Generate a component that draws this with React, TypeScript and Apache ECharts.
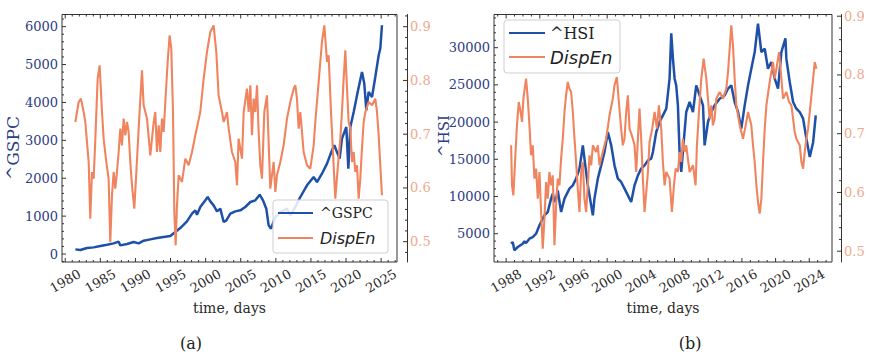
import React, { useEffect, useRef } from "react";
import * as echarts from "echarts";

// ---------- data ----------
// (a) ^GSPC
const gspcYears = [1981.44, 1982.15, 1983.1, 1984.05, 1985.0, 1985.95, 1986.9, 1987.61, 1987.85, 1988.8, 1989.75, 1990.46, 1991.17, 1992.12, 1993.07, 1994.02, 1994.97, 1995.68, 1996.39, 1997.34, 1998.06, 1998.53, 1998.77, 1999.24, 1999.96, 2000.29, 2000.67, 2001.14, 2001.62, 2002.09, 2002.57, 2002.95, 2003.52, 2004.23, 2004.94, 2005.65, 2006.37, 2007.08, 2007.7, 2008.17, 2008.64, 2008.98, 2009.31, 2009.93, 2010.64, 2011.59, 2012.06, 2012.78, 2013.49, 2014.44, 2015.39, 2015.86, 2016.57, 2017.29, 2018.0, 2018.33, 2018.71, 2019.09, 2019.42, 2020.04, 2020.33, 2020.61, 2021.09, 2021.66, 2022.27, 2022.6, 2022.89, 2023.22, 2023.7, 2024.17, 2024.65, 2024.88, 2025.12];
const gspcValues = [123, 106, 158, 176, 211, 246, 282, 326, 229, 264, 317, 282, 352, 387, 422, 449, 475, 581, 686, 862, 1065, 1153, 1038, 1241, 1417, 1505, 1390, 1285, 1126, 1197, 845, 889, 1065, 1126, 1153, 1241, 1373, 1417, 1566, 1417, 1197, 757, 669, 977, 1109, 1197, 1021, 1241, 1505, 1813, 2033, 1900, 2120, 2385, 2737, 2869, 2693, 2517, 3045, 3353, 2253, 3353, 3749, 4277, 4805, 4497, 3793, 4277, 4145, 4673, 5245, 5421, 6037];

// (a) DispEn
const dispAYears = [1981.44, 1981.91, 1982.24, 1982.62, 1982.86, 1983.34, 1983.57, 1983.81, 1984.05, 1984.29, 1984.62, 1984.9, 1985.24, 1985.47, 1985.85, 1986.18, 1986.42, 1986.66, 1986.9, 1987.13, 1987.37, 1987.61, 1987.85, 1988.08, 1988.32, 1988.56, 1988.8, 1989.03, 1989.27, 1989.51, 1989.84, 1990.13, 1990.46, 1990.93, 1991.17, 1991.65, 1992.12, 1992.6, 1992.83, 1993.07, 1993.31, 1993.54, 1993.78, 1994.02, 1994.26, 1994.59, 1994.87, 1995.11, 1995.35, 1995.54, 1995.73, 1995.92, 1996.16, 1996.63, 1997.11, 1997.58, 1998.06, 1998.53, 1999.24, 1999.72, 2000.19, 2000.67, 2001.14, 2001.52, 2001.85, 2002.33, 2002.57, 2003.04, 2003.28, 2003.75, 2004.23, 2004.47, 2004.7, 2005.18, 2005.42, 2005.89, 2006.13, 2006.37, 2006.6, 2006.84, 2007.08, 2007.32, 2007.55, 2007.79, 2008.03, 2008.36, 2008.74, 2009.21, 2009.69, 2009.93, 2010.16, 2010.64, 2011.11, 2011.59, 2012.06, 2012.54, 2012.78, 2013.01, 2013.25, 2013.49, 2013.96, 2014.44, 2014.91, 2015.39, 2015.62, 2016.1, 2016.57, 2016.91, 2017.29, 2017.52, 2017.86, 2018.14, 2018.47, 2018.81, 2019.19, 2019.42, 2019.66, 2019.9, 2020.14, 2020.37, 2020.61, 2020.85, 2021.09, 2021.32, 2021.56, 2021.8, 2022.03, 2022.27, 2022.51, 2022.75, 2023.22, 2023.7, 2024.17, 2024.41, 2024.65, 2024.88, 2025.12];
const dispAValues = [0.7227, 0.7599, 0.7661, 0.7413, 0.7227, 0.6483, 0.5429, 0.6297, 0.6173, 0.6917, 0.8033, 0.8281, 0.7413, 0.6917, 0.6483, 0.6173, 0.4994, 0.5863, 0.6297, 0.5987, 0.6297, 0.6669, 0.7103, 0.6793, 0.7289, 0.6979, 0.7227, 0.7041, 0.6483, 0.6049, 0.5615, 0.6297, 0.7103, 0.8188, 0.7537, 0.7289, 0.6607, 0.7227, 0.7413, 0.6669, 0.7165, 0.6669, 0.7289, 0.7041, 0.7599, 0.8343, 0.8839, 0.8591, 0.7413, 0.5553, 0.4932, 0.5677, 0.6235, 0.6111, 0.6545, 0.6421, 0.6669, 0.6979, 0.7413, 0.8033, 0.8529, 0.8901, 0.9025, 0.8529, 0.7723, 0.7413, 0.7227, 0.7413, 0.7103, 0.6669, 0.6483, 0.6049, 0.6917, 0.6545, 0.7413, 0.7847, 0.7413, 0.7909, 0.6979, 0.7661, 0.7413, 0.7909, 0.7041, 0.6421, 0.6173, 0.7413, 0.7723, 0.5987, 0.6483, 0.5925, 0.6235, 0.6483, 0.6793, 0.7289, 0.7599, 0.7847, 0.7909, 0.7661, 0.7103, 0.7413, 0.6669, 0.6421, 0.6359, 0.6793, 0.7227, 0.7971, 0.8715, 0.9025, 0.8343, 0.8467, 0.7413, 0.6669, 0.5801, 0.6359, 0.6917, 0.7413, 0.8033, 0.856, 0.7847, 0.7227, 0.7103, 0.6483, 0.6669, 0.6297, 0.6421, 0.5801, 0.6173, 0.6731, 0.7227, 0.7413, 0.7599, 0.7537, 0.7661, 0.7413, 0.6979, 0.6421, 0.5863];

// (b) ^HSI
const hsiYears = [1988.59, 1988.78, 1988.98, 1989.38, 1989.97, 1990.17, 1990.37, 1990.77, 1991.16, 1991.56, 1991.96, 1992.15, 1992.55, 1992.94, 1993.14, 1993.34, 1993.54, 1993.74, 1993.94, 1994.13, 1994.53, 1994.93, 1995.52, 1995.92, 1996.31, 1996.71, 1997.11, 1997.3, 1997.7, 1998.1, 1998.3, 1998.49, 1998.89, 1999.29, 1999.68, 2000.08, 2000.48, 2000.87, 2001.27, 2001.66, 2002.06, 2002.46, 2002.85, 2003.25, 2003.65, 2004.04, 2004.44, 2004.84, 2005.23, 2005.43, 2005.83, 2006.22, 2006.62, 2007.02, 2007.41, 2007.61, 2007.81, 2008.01, 2008.2, 2008.4, 2008.6, 2008.8, 2008.99, 2009.39, 2009.79, 2010.19, 2010.58, 2010.98, 2011.38, 2011.57, 2011.97, 2012.37, 2012.76, 2013.36, 2013.95, 2014.35, 2014.74, 2015.14, 2015.54, 2015.93, 2016.33, 2016.73, 2017.12, 2017.52, 2017.91, 2018.31, 2018.71, 2019.1, 2019.5, 2019.9, 2020.29, 2020.69, 2021.17, 2021.28, 2021.68, 2022.08, 2022.47, 2022.87, 2023.27, 2023.66, 2024.06, 2024.46, 2024.77];
const hsiValues = [3660, 3881, 2767, 3212, 3660, 3970, 3747, 4328, 4552, 5004, 6125, 6572, 7468, 7916, 8812, 9708, 10380, 9260, 9708, 10800, 7916, 9708, 11053, 11501, 12397, 13741, 16877, 15085, 11501, 8812, 7468, 9708, 12397, 14189, 15980, 18669, 16877, 14189, 12397, 11949, 11053, 10156, 9260, 11501, 12845, 13741, 14189, 14861, 15085, 15980, 18669, 20010, 20906, 21802, 25834, 31929, 28523, 25834, 24938, 22250, 15980, 13293, 15980, 21354, 22698, 21354, 24938, 23594, 22250, 16877, 20010, 21354, 22250, 23146, 23594, 24490, 24938, 22698, 21354, 19114, 22250, 24938, 27179, 29419, 33228, 29419, 29867, 27179, 28075, 25834, 24490, 29419, 31249, 28523, 25386, 22698, 21802, 21354, 20458, 17773, 15300, 17300, 20906];

// (b) DispEn
const dispBYears = [1988.59, 1988.7, 1988.86, 1989.1, 1989.26, 1989.5, 1989.66, 1989.89, 1990.05, 1990.21, 1990.37, 1990.57, 1990.77, 1990.96, 1991.16, 1991.36, 1991.56, 1991.76, 1991.96, 1992.15, 1992.35, 1992.55, 1992.75, 1992.94, 1993.14, 1993.34, 1993.54, 1993.74, 1993.94, 1994.13, 1994.33, 1994.53, 1994.73, 1994.93, 1995.12, 1995.32, 1995.52, 1995.72, 1995.92, 1996.12, 1996.31, 1996.51, 1996.71, 1996.91, 1997.11, 1997.3, 1997.5, 1997.7, 1997.9, 1998.1, 1998.3, 1998.69, 1998.89, 1999.09, 1999.48, 1999.88, 2000.28, 2000.67, 2000.87, 2001.15, 2001.39, 2001.66, 2001.86, 2002.06, 2002.26, 2002.46, 2002.66, 2003.05, 2003.25, 2003.45, 2003.65, 2003.84, 2004.04, 2004.24, 2004.44, 2004.64, 2004.84, 2005.03, 2005.35, 2005.63, 2005.91, 2006.14, 2006.42, 2006.62, 2006.82, 2007.02, 2007.41, 2007.69, 2007.93, 2008.13, 2008.4, 2008.6, 2008.8, 2008.99, 2009.19, 2009.39, 2009.79, 2010.19, 2010.5, 2010.66, 2010.9, 2011.18, 2011.46, 2011.77, 2011.97, 2012.17, 2012.37, 2012.56, 2012.76, 2012.96, 2013.36, 2013.75, 2014.15, 2014.35, 2014.55, 2014.74, 2014.94, 2015.14, 2015.34, 2015.74, 2016.13, 2016.45, 2016.73, 2017.12, 2017.32, 2017.52, 2017.72, 2017.91, 2018.11, 2018.31, 2018.51, 2018.71, 2018.91, 2019.3, 2019.7, 2019.9, 2020.1, 2020.41, 2020.69, 2020.89, 2021.28, 2021.6, 2021.88, 2022.08, 2022.27, 2022.47, 2022.87, 2023.07, 2023.27, 2023.46, 2023.66, 2023.86, 2024.06, 2024.26, 2024.46, 2024.65, 2024.85];
const dispBValues = [0.6802, 0.6121, 0.5951, 0.6632, 0.7086, 0.754, 0.7426, 0.7199, 0.7596, 0.7767, 0.7937, 0.7596, 0.7142, 0.6632, 0.6802, 0.6235, 0.6405, 0.5894, 0.6348, 0.5667, 0.5043, 0.5554, 0.6178, 0.5894, 0.6348, 0.6121, 0.6291, 0.51, 0.5781, 0.6235, 0.6121, 0.6575, 0.6915, 0.737, 0.7653, 0.788, 0.7767, 0.771, 0.737, 0.6915, 0.6518, 0.6064, 0.5667, 0.6348, 0.6518, 0.5894, 0.5667, 0.6121, 0.6632, 0.6462, 0.6802, 0.6689, 0.6802, 0.6462, 0.6689, 0.6915, 0.7313, 0.7596, 0.7823, 0.7965, 0.754, 0.7086, 0.6802, 0.6915, 0.737, 0.7653, 0.7086, 0.6915, 0.6802, 0.6348, 0.6915, 0.7426, 0.6915, 0.6235, 0.5667, 0.6008, 0.6348, 0.6859, 0.7086, 0.737, 0.7086, 0.7483, 0.7086, 0.6518, 0.6121, 0.6348, 0.6235, 0.5667, 0.6121, 0.6405, 0.6348, 0.6689, 0.6518, 0.6915, 0.6689, 0.6802, 0.6348, 0.6462, 0.6121, 0.6802, 0.737, 0.7937, 0.8277, 0.7937, 0.7596, 0.7256, 0.7483, 0.7142, 0.7256, 0.7596, 0.771, 0.7596, 0.7767, 0.805, 0.8447, 0.8844, 0.8504, 0.7937, 0.7483, 0.7142, 0.6915, 0.7142, 0.737, 0.7142, 0.6802, 0.6518, 0.6121, 0.5837, 0.5639, 0.5894, 0.6518, 0.7086, 0.7483, 0.788, 0.822, 0.7937, 0.8107, 0.839, 0.7937, 0.7596, 0.771, 0.754, 0.7483, 0.7256, 0.7029, 0.6915, 0.6802, 0.6518, 0.6405, 0.6689, 0.6915, 0.7086, 0.737, 0.7653, 0.7937, 0.822, 0.8107];

// tick labels
const xTicksA = [1980, 1985, 1990, 1995, 2000, 2005, 2010, 2015, 2020, 2025];
const xTicksB = [1988, 1992, 1996, 2000, 2004, 2008, 2012, 2016, 2020, 2024];
const yTicksGspc = [0, 1000, 2000, 3000, 4000, 5000, 6000];
const yTicksHsi = [5000, 10000, 15000, 20000, 25000, 30000];
const yTicksDisp = [0.5, 0.6, 0.7, 0.8, 0.9];

const SERIF = '"DejaVu Serif", "Liberation Serif", serif';
const SANS = '"DejaVu Sans", "Liberation Sans", sans-serif';
const BLUE = "#1f50a8";
const ORANGE = "#f0845e";
const NAVY = "#2b3c85";
const SALMON = "#f1a88a";
const FRAME = "#333333";

// axis ranges
const A = { xmin: 1979.54, xmax: 2027.26, lmin: -210, lmax: 6320, rmin: 0.4622, rmax: 0.9227, off: 10 };
const B = { xmin: 1986.56, xmax: 2026.7, lmin: 1196, lmax: 34460, rmin: 0.4816, rmax: 0.9029, off: 9 };

function steps(start: number, end: number, step: number): number[] {
  const out: number[] = [];
  const n = Math.round((end - start) / step);
  for (let i = 0; i <= n; i++) out.push(+(start + i * step).toFixed(4));
  return out;
}
function zip(xs: number[], ys: number[]) {
  return xs.map((x, i) => [x, ys[i]]);
}
// tick items: [value, length]
function tickItems(major: number[], minor: number[]) {
  const isMajor = (v: number) => major.some((m) => Math.abs(m - v) < 1e-6);
  return [...major.map((v) => [v, 4]), ...minor.filter((v) => !isMajor(v)).map((v) => [v, 2])];
}

const tickStyle = { stroke: FRAME, lineWidth: 1 };

function xTickSeries(xIdx: number, yIdx: number, ymin: number, ymax: number, items: number[][]) {
  return {
    type: "custom", xAxisIndex: xIdx, yAxisIndex: yIdx, silent: true, z: 20, clip: false, data: items,
    renderItem: (_p: any, api: any) => {
      const v = api.value(0); const len = api.value(1);
      const b = api.coord([v, ymin]); const t = api.coord([v, ymax]);
      return {
        type: "group", children: [
          { type: "line", shape: { x1: b[0], y1: b[1], x2: b[0], y2: b[1] - len }, style: tickStyle },
          { type: "line", shape: { x1: t[0], y1: t[1], x2: t[0], y2: t[1] + len }, style: tickStyle },
        ],
      };
    },
  };
}
function yTickSeries(xIdx: number, yIdx: number, xAt: number, dx: number, dir: number, items: number[][]) {
  return {
    type: "custom", xAxisIndex: xIdx, yAxisIndex: yIdx, silent: true, z: 20, clip: false,
    data: items.map((d) => [xAt, d[0], d[1]]),
    renderItem: (_p: any, api: any) => {
      const v = api.value(1); const len = api.value(2);
      const p = api.coord([xAt, v]);
      const x = p[0] + dx;
      return { type: "line", shape: { x1: x, y1: p[1], x2: x + dir * len, y2: p[1] }, style: tickStyle };
    },
  };
}

function axesFor(g: number, R: any, xMajor: number[], lMajor: number[]) {
  const xAxis = {
    gridIndex: g, type: "value", min: R.xmin, max: R.xmax, position: "bottom",
    splitLine: { show: false }, axisLine: { show: false }, axisTick: { show: false },
    axisLabel: {
      show: true, customValues: xMajor, rotate: 30, align: "center", verticalAlign: "middle",
      margin: 19, fontFamily: SERIF, fontSize: 13, color: "#2a2a2a", formatter: (v: number) => String(v),
    },
    name: "time, days", nameLocation: "middle", nameGap: 37,
    nameTextStyle: { fontFamily: SERIF, fontSize: 14, color: "#2a2a2a", verticalAlign: "top" },
  };
  const yLeft = {
    gridIndex: g, type: "value", min: R.lmin, max: R.lmax, position: "left",
    splitLine: { show: false }, axisLine: { show: false }, axisTick: { show: false },
    axisLabel: { show: true, customValues: lMajor, margin: 4, fontFamily: SERIF, fontSize: 13, color: NAVY, formatter: (v: number) => String(v) },
  };
  const yRight = {
    gridIndex: g, type: "value", min: R.rmin, max: R.rmax, position: "right", offset: R.off,
    splitLine: { show: false }, axisLine: { show: true, onZero: false, lineStyle: { color: FRAME, width: 1 } }, axisTick: { show: false },
    axisLabel: { show: true, customValues: yTicksDisp, margin: 3, fontFamily: SERIF, fontSize: 13, color: SALMON, formatter: (v: number) => v.toFixed(1) },
  };
  return { xAxis, yLeft, yRight };
}

function legend(x: number, y: number, w: number, h: number, l1: number, l2: number, lx1: number, lx2: number, tx: number,
  name1: string, size1: number, size2: number) {
  return [
    { type: "rect", shape: { x, y, width: w, height: h, r: 3 }, style: { fill: "rgba(255,255,255,0.85)", stroke: "#cfcfcf", lineWidth: 1 }, z: 100 },
    { type: "line", shape: { x1: lx1, y1: l1, x2: lx2, y2: l1 }, style: { stroke: BLUE, lineWidth: 2.2 }, z: 101 },
    { type: "line", shape: { x1: lx1, y1: l2, x2: lx2, y2: l2 }, style: { stroke: ORANGE, lineWidth: 2.2 }, z: 101 },
    { type: "text", x: tx, y: l1, style: { text: name1, fontFamily: SERIF, fontSize: size1, fill: "#222", verticalAlign: "middle" }, z: 101 },
    { type: "text", x: tx, y: l2, style: { text: "DispEn", fontFamily: SANS, fontStyle: "italic", fontSize: size2, fill: "#222", verticalAlign: "middle" }, z: 101 },
  ];
}

export default function App() {
  const ref = useRef<HTMLDivElement>(null);
  useEffect(() => {
    if (!ref.current) return;
    const chart = echarts.init(ref.current, undefined, { renderer: "svg" });
    const a = axesFor(0, A, xTicksA, yTicksGspc);
    const b = axesFor(1, B, xTicksB, yTicksHsi);
    const option: any = {
      animation: false,
      backgroundColor: "#ffffff",
      grid: [
        { left: 62, top: 14.5, width: 335, height: 247.5, show: true, borderColor: FRAME, borderWidth: 1, backgroundColor: "transparent", containLabel: false, outerBoundsMode: "none" },
        { left: 494, top: 14.5, width: 338, height: 247.5, show: true, borderColor: FRAME, borderWidth: 1, backgroundColor: "transparent", containLabel: false, outerBoundsMode: "none" },
      ],
      xAxis: [a.xAxis, b.xAxis],
      yAxis: [a.yLeft, a.yRight, b.yLeft, b.yRight],
      series: [
        { name: "^GSPC", type: "line", xAxisIndex: 0, yAxisIndex: 0, data: zip(gspcYears, gspcValues), symbol: "none", lineStyle: { color: BLUE, width: 2.5 }, itemStyle: { color: BLUE }, z: 2 },
        { name: "DispEn", type: "line", xAxisIndex: 0, yAxisIndex: 1, data: zip(dispAYears, dispAValues), symbol: "none", lineStyle: { color: ORANGE, width: 2.1 }, itemStyle: { color: ORANGE }, z: 3 },
        { name: "^HSI", type: "line", xAxisIndex: 1, yAxisIndex: 2, data: zip(hsiYears, hsiValues), symbol: "none", lineStyle: { color: BLUE, width: 2.5 }, itemStyle: { color: BLUE }, z: 2 },
        { name: "DispEn (b)", type: "line", xAxisIndex: 1, yAxisIndex: 3, data: zip(dispBYears, dispBValues), symbol: "none", lineStyle: { color: ORANGE, width: 2.1 }, itemStyle: { color: ORANGE }, z: 3 },
        // ticks (a)
        xTickSeries(0, 0, A.lmin, A.lmax, tickItems(xTicksA, steps(1980, 2027, 1))),
        yTickSeries(0, 0, A.xmin, 0, 1, tickItems(yTicksGspc, steps(-200, 6200, 200))),
        yTickSeries(0, 1, A.xmax, A.off, -1, tickItems(yTicksDisp, steps(0.48, 0.92, 0.02))),
        // ticks (b)
        xTickSeries(1, 2, B.lmin, B.lmax, tickItems(xTicksB, steps(1987, 2026, 1))),
        yTickSeries(1, 2, B.xmin, 0, 1, tickItems(yTicksHsi, steps(2000, 34000, 1000))),
        yTickSeries(1, 3, B.xmax, B.off, -1, tickItems(yTicksDisp, steps(0.5, 0.9, 0.02))),
      ],
      graphic: [
        { type: "text", x: 13, y: 148, rotation: Math.PI / 2, style: { text: "^GSPC", fontFamily: SERIF, fontSize: 17, fill: NAVY, align: "center", verticalAlign: "middle" } },
        { type: "text", x: 444, y: 136, rotation: Math.PI / 2, style: { text: "^HSI", fontFamily: SERIF, fontSize: 15, fill: NAVY, align: "center", verticalAlign: "middle" } },
        ...legend(273, 200, 115, 53, 213, 238, 278, 313, 320, "^GSPC", 14, 16),
        ...legend(504, 20, 116, 53, 33, 57, 509, 545, 550, "^HSI", 16, 18),
        { type: "text", x: 191, y: 343, style: { text: "(a)", fontFamily: SERIF, fontSize: 16, fill: "#222", align: "center", verticalAlign: "middle" } },
        { type: "text", x: 690, y: 343, style: { text: "(b)", fontFamily: SERIF, fontSize: 16, fill: "#222", align: "center", verticalAlign: "middle" } },
      ],
    };
    chart.setOption(option);
    return () => chart.dispose();
  }, []);
  return <div ref={ref} style={{ position: "absolute", left: 0, top: 0, width: 877, height: 355, background: "#fff" }} />;
}
